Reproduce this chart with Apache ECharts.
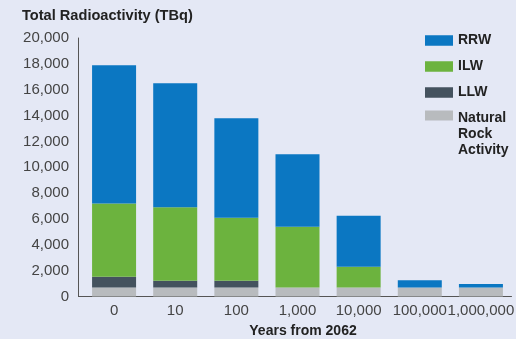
<!DOCTYPE html>
<html>
<head>
<meta charset="utf-8">
<script src="https://cdn.jsdelivr.net/npm/echarts@6/dist/echarts.min.js"></script>
<style>
html,body{margin:0;padding:0;background:#e4e8f5;}
#c{width:516px;height:339px;}
</style>
</head>
<body>
<div id="c"></div>
<script>
var categories = ['0', '10', '100', '1,000', '10,000', '100,000', '1,000,000'];
var natural = [700, 700, 700, 700, 700, 700, 700];
var llw = [830, 520, 520, 0, 0, 0, 0];
var ilw = [5670, 5680, 4880, 4700, 1600, 0, 0];
var rrw = [10700, 9600, 7700, 5600, 3950, 560, 260];
var yTicks = [0, 2000, 4000, 6000, 8000, 10000, 12000, 14000, 16000, 18000, 20000];

var FONT = "'Liberation Sans', Arial, sans-serif";
var colors = {rrw: '#0b77c2', ilw: '#6cb33e', llw: '#44525e', nat: '#b8bbbe'};
var lt = {fontFamily: FONT, fontSize: 14, fontWeight: 'bold', color: '#222'};

var chart = echarts.init(document.getElementById('c'));
chart.setOption({
  backgroundColor: '#e4e8f5',
  animation: false,
  title: {
    text: 'Total Radioactivity (TBq)',
    left: 22, top: 8, padding: 0,
    textStyle: {fontFamily: FONT, fontSize: 14.6, fontWeight: 'bold', color: '#222'}
  },
  legend: [
    {
      orient: 'vertical', left: 425, top: 33.5, padding: 0,
      itemWidth: 28, itemHeight: 10.5, itemGap: 12,
      icon: 'rect',
      data: ['RRW', 'ILW', 'LLW'],
      textStyle: lt
    },
    {
      orient: 'vertical', left: 425, top: 75, padding: 0,
      itemWidth: 28, itemHeight: 10,
      icon: 'rect',
      data: ['Natural Rock Activity'],
      formatter: function () { return '{s| }\n{s| }\n{a|Natural}\n{a|Rock}\n{a|Activity}'; },
      textStyle: {
        fontFamily: FONT, fontSize: 14, fontWeight: 'bold', color: '#222',
        rich: {
          s: {fontFamily: FONT, fontSize: 14, lineHeight: 19},
          a: {fontFamily: FONT, fontSize: 14, fontWeight: 'bold', color: '#222', lineHeight: 16}
        }
      }
    }
  ],
  grid: {left: 83.5, right: 4.5, top: 38, bottom: 42.5, containLabel: false, outerBoundsMode: 'none'},
  xAxis: {
    type: 'category',
    data: categories,
    axisLine: {lineStyle: {color: '#555', width: 1}},
    axisTick: {show: false},
    axisLabel: {interval: 0, hideOverlap: false, fontFamily: FONT, fontSize: 15, color: '#444', margin: 7},
    name: 'Years from 2062',
    nameLocation: 'middle',
    nameGap: 28,
    nameTextStyle: {fontFamily: FONT, fontSize: 14, fontWeight: 'bold', color: '#222', padding: [0, 0, 0, 11]}
  },
  yAxis: {
    type: 'value',
    min: 0, max: 20000, interval: 2000,
    offset: 5.5,
    axisLine: {show: true, lineStyle: {color: '#555', width: 1}},
    axisTick: {show: false},
    splitLine: {show: false},
    axisLabel: {
      fontFamily: FONT, fontSize: 15, color: '#444', margin: 9,
      formatter: function (v) { return yTicks.indexOf(v) >= 0 ? v.toLocaleString('en-US') : ''; }
    }
  },
  graphic: [{
    type: 'line', shape: {x1: 78, y1: 296.5, x2: 84, y2: 296.5},
    style: {stroke: '#555', lineWidth: 1}, silent: true
  }],
  series: [
    {name: 'Natural Rock Activity', type: 'bar', stack: 't', barWidth: 44, data: natural, itemStyle: {color: colors.nat}},
    {name: 'LLW', type: 'bar', stack: 't', barWidth: 44, data: llw, itemStyle: {color: colors.llw}},
    {name: 'ILW', type: 'bar', stack: 't', barWidth: 44, data: ilw, itemStyle: {color: colors.ilw}},
    {name: 'RRW', type: 'bar', stack: 't', barWidth: 44, data: rrw, itemStyle: {color: colors.rrw}}
  ]
});
</script>
</body>
</html>
